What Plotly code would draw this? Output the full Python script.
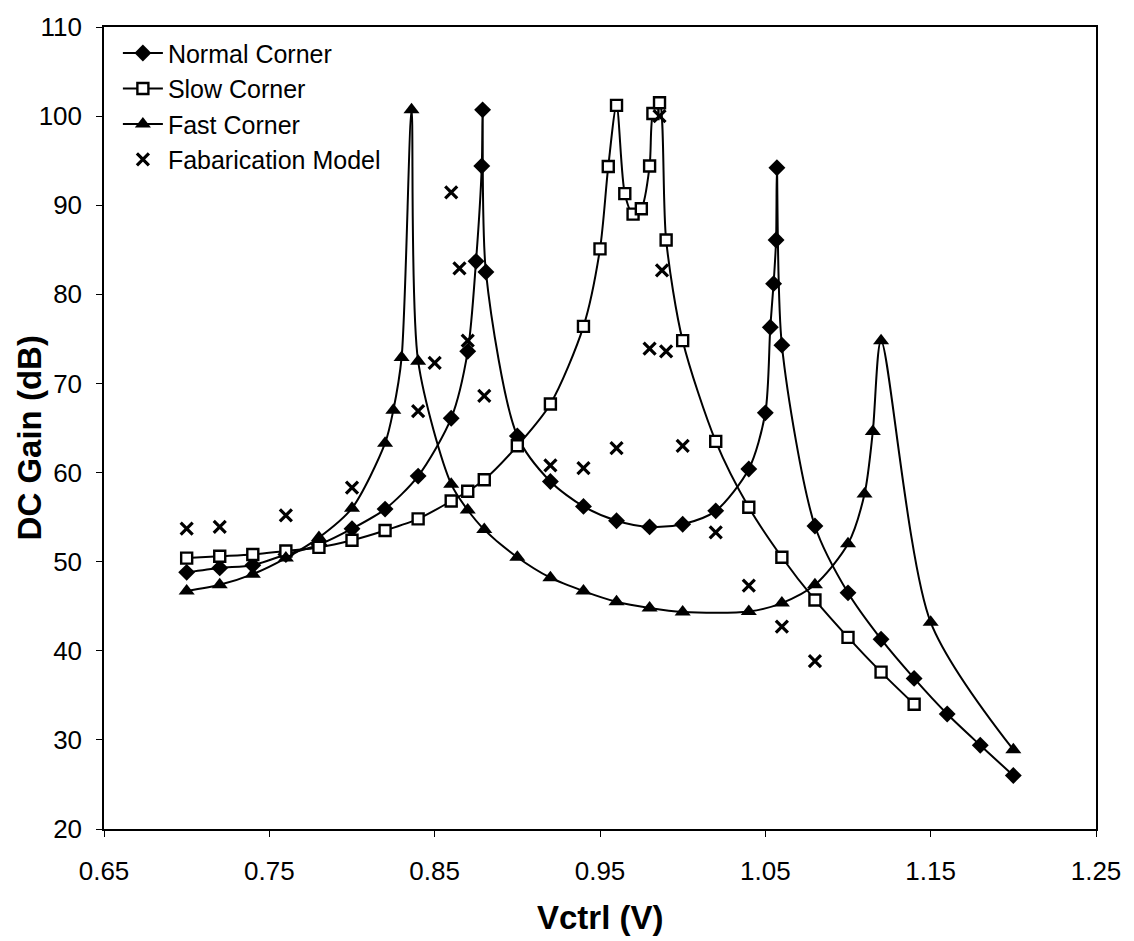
import plotly.graph_objects as go

# ---- data ----
normal_x = [0.70, 0.72, 0.74, 0.76, 0.78, 0.80, 0.82, 0.84, 0.86, 0.87, 0.875, 0.8785, 0.879, 0.881,
            0.90, 0.92, 0.94, 0.96, 0.98, 1.00, 1.02, 1.04, 1.05, 1.053, 1.055, 1.0565, 1.057, 1.06,
            1.08, 1.10, 1.12, 1.14, 1.16, 1.18, 1.20]
normal_y = [48.8, 49.3, 49.6, 50.8, 51.9, 53.7, 55.9, 59.6, 66.1, 73.6, 83.7, 94.4, 100.7, 82.5,
            64.1, 59.0, 56.2, 54.6, 53.9, 54.2, 55.7, 60.4, 66.7, 76.3, 81.2, 86.1, 94.2, 74.3,
            54.0, 46.5, 41.3, 36.9, 32.9, 29.4, 26.0]

slow_x = [0.70, 0.72, 0.74, 0.76, 0.78, 0.80, 0.82, 0.84, 0.86, 0.87, 0.88, 0.90, 0.92, 0.94,
          0.95, 0.955, 0.96, 0.965, 0.97, 0.975, 0.98, 0.982, 0.986, 0.99, 1.00, 1.02, 1.04,
          1.06, 1.08, 1.10, 1.12, 1.14]
slow_y = [50.4, 50.6, 50.8, 51.2, 51.6, 52.4, 53.5, 54.8, 56.8, 57.9, 59.2, 63.0, 67.7, 76.4,
          85.1, 94.35, 101.2, 91.3, 89.0, 89.6, 94.4, 100.3, 101.5, 86.1, 74.8, 63.5, 56.1,
          50.5, 45.7, 41.5, 37.6, 34.0]

fast_x = [0.70, 0.72, 0.74, 0.76, 0.78, 0.80, 0.82, 0.825, 0.83, 0.836, 0.84, 0.86, 0.87, 0.88,
          0.90, 0.92, 0.94, 0.96, 0.98, 1.00, 1.04, 1.06, 1.08, 1.10, 1.11, 1.115, 1.12, 1.15, 1.20]
fast_y = [46.7, 47.4, 48.6, 50.4, 52.7, 56.0, 63.3, 67.0, 72.9, 100.7, 72.5, 58.7, 55.8, 53.6,
          50.5, 48.2, 46.7, 45.5, 44.8, 44.35, 44.4, 45.35, 47.4, 52.0, 57.6, 64.6, 74.8, 43.2, 28.9]

fab_x = [0.70, 0.72, 0.76, 0.80, 0.84, 0.85, 0.86, 0.865, 0.87, 0.88, 0.92, 0.94, 0.96, 0.98,
         0.986, 0.9875, 0.99, 1.00, 1.02, 1.04, 1.06, 1.08]
fab_y = [53.7, 53.9, 55.2, 58.3, 66.9, 72.3, 91.45, 82.9, 74.8, 68.6, 60.8, 60.5, 62.75, 73.9,
         100.0, 82.7, 73.6, 63.0, 53.3, 47.3, 42.7, 38.85]

x_ticks = [0.65, 0.75, 0.85, 0.95, 1.05, 1.15, 1.25]
y_ticks = [20, 30, 40, 50, 60, 70, 80, 90, 100, 110]

FONT = "Liberation Sans, Arial, sans-serif"

fig = go.Figure()
fig.add_trace(go.Scatter(
    x=normal_x, y=normal_y, name="Normal Corner", mode="lines+markers", legendgroup="a",
    line=dict(color="black", width=2, shape="spline", smoothing=0.8),
    marker=dict(symbol="diamond", size=13, color="black")))
fig.add_trace(go.Scatter(
    x=slow_x, y=slow_y, name="Slow Corner", mode="lines+markers", legendgroup="b",
    line=dict(color="black", width=2, shape="spline", smoothing=0.8),
    marker=dict(symbol="square", size=11, color="white", line=dict(color="black", width=2.4))))
fig.add_trace(go.Scatter(
    x=fast_x, y=fast_y, name="Fast Corner", mode="lines+markers", legendgroup="c",
    line=dict(color="black", width=2, shape="spline", smoothing=0.8),
    marker=dict(symbol="triangle-up", size=14, color="black")))
fig.add_trace(go.Scatter(
    x=fab_x, y=fab_y, name="Fabarication Model", mode="markers", legendgroup="d",
    marker=dict(symbol="x-thin", size=12, color="black", line=dict(color="black", width=3.2))))

fig.update_layout(
    width=1134, height=941,
    margin=dict(l=104, r=38, t=22, b=112),
    paper_bgcolor="white", plot_bgcolor="white",
    font=dict(family=FONT, color="black", size=26),
    showlegend=True,
    legend=dict(x=0.014, y=0.996, xanchor="left", yanchor="top",
                bgcolor="rgba(0,0,0,0)", borderwidth=0, itemwidth=40,
                font=dict(family=FONT, size=25, color="black"),
                tracegroupgap=0),
    xaxis=dict(range=[0.65, 1.25], tickvals=x_ticks, ticktext=[f"{v:.2f}" for v in x_ticks],
               showgrid=False, zeroline=False, showline=True, linecolor="black", linewidth=1.5,
               mirror=True, ticks="outside", ticklen=6, tickcolor="black",
               ticklabelstandoff=12,
               tickfont=dict(family=FONT, size=26)),
    yaxis=dict(range=[20, 110], tickvals=y_ticks,
               showgrid=False, zeroline=False, showline=True, linecolor="black", linewidth=1.5,
               mirror=True, ticks="outside", ticklen=6, tickcolor="black",
               ticklabelstandoff=9,
               tickfont=dict(family=FONT, size=26)),
    annotations=[
        dict(text="<b>Vctrl (V)</b>", xref="paper", yref="paper", x=0.5, y=-0.110,
             xanchor="center", yanchor="middle", showarrow=False,
             font=dict(family=FONT, size=33, color="black")),
        dict(text="<b>DC Gain (dB)</b>", xref="paper", yref="paper", x=-0.0756, y=0.487,
             xanchor="center", yanchor="middle", showarrow=False, textangle=-90,
             font=dict(family=FONT, size=33, color="black")),
    ],
)

fig.write_html("out.html")
